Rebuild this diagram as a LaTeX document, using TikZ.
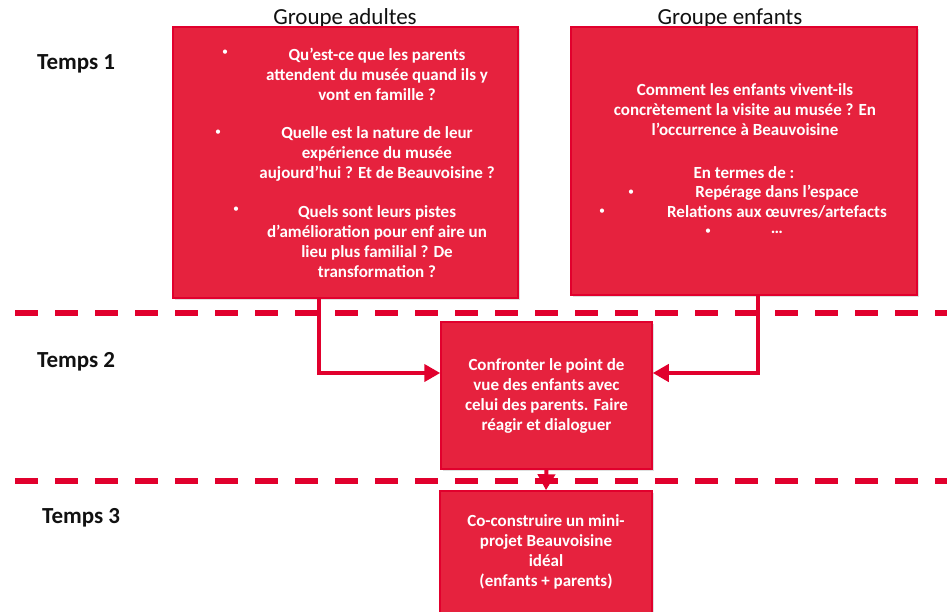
\documentclass[tikz,border=0pt]{standalone}
\usepackage{fontspec}
\setmainfont{Carlito}
\usetikzlibrary{arrows.meta,positioning,shadows}
\definecolor{BoxRed}{HTML}{E6223E}
\definecolor{EdgeRed}{HTML}{E1002D}
\definecolor{DarkText}{HTML}{111111}

\begin{document}
\begin{tikzpicture}[x=1pt,y=-1pt,
  box/.style={draw=EdgeRed,fill=BoxRed,line width=1.5pt,inner sep=0pt,
    drop shadow={shadow xshift=1.5pt,shadow yshift=-1.5pt,opacity=.25}},
  txt/.style={text=white,font=\bfseries\fontsize{17}{20}\selectfont,align=center},
  dot/.style={text=white,font=\fontsize{12}{12}\selectfont},
  phase/.style={anchor=base west,inner sep=0pt,text=DarkText,font=\bfseries\fontsize{23}{26}\selectfont},
  group/.style={anchor=base,inner sep=0pt,text=DarkText,font=\fontsize{23}{27}\selectfont},
  link/.style={draw=EdgeRed,line width=4pt,-{Triangle[length=16pt,width=17pt]}},
  sep/.style={draw=EdgeRed,line width=6pt,dash pattern=on 23pt off 17pt}
]
\useasboundingbox (0,0) rectangle (947,611);

% separators between the phases
\draw[sep] (15,313) -- (947,313);
\draw[sep] (15,481) -- (947,481);

% phases and groups
\node[phase] (t1) at (37,69) {Temps 1};
\node[phase] (t2) at (37,367) {Temps 2};
\node[phase] (t3) at (42,523) {Temps 3};
\node[group] (ga) at (345,24) {Groupe adultes};
\node[group] (ge) at (730,24) {Groupe enfants};

% boxes
\node[box,minimum width=345pt,minimum height=271pt] (adultes) at (345.5,162.5) {};
\node[box,minimum width=346pt,minimum height=268pt] (enfants) at (744,161) {};
\node[box,minimum width=211pt,minimum height=147pt] (confronter) at (546.5,395.5) {};
\node[box,minimum width=212pt,minimum height=122pt] (construire) at (546,552) {};

% adults questions
\node[dot] (a1) at (225,53) {•};
\node[txt] (q1) at (377,74) {Qu’est-ce que les parents\\attendent du musée quand ils y\\vont en famille ?};
\node[dot] (a2) at (218,133) {•};
\node[txt] (q2) at (377,154) {Quelle est la nature de leur\\expérience du musée\\aujourd’hui ? Et de Beauvoisine ?};
\node[dot] (a3) at (236,210) {•};
\node[txt] (q3) at (377,242) {Quels sont leurs pistes\\d’amélioration pour enf aire un\\lieu plus familial ? De\\transformation ?};

% children questions
\node[txt] (c1) at (745,110) {Comment les enfants vivent-ils\\concrètement la visite au musée ? En\\l’occurrence à Beauvoisine};
\node[txt] (c2) at (744,173) {En termes de :};
\node[dot] (e1) at (631,193) {•};
\node[txt] (c3) at (777,193) {Repérage dans l’espace};
\node[dot] (e2) at (602,212) {•};
\node[txt] (c4) at (777,212) {Relations aux œuvres/artefacts};
\node[dot] (e3) at (708,232) {•};
\node[txt] (c5) at (777,232) {…};

% joint phases
\node[txt] at (confronter) {Confronter le point de\\vue des enfants avec\\celui des parents. Faire\\réagir et dialoguer};
\node[txt] at (construire) {Co-construire un mini-\\projet Beauvoisine\\idéal\\(enfants + parents)};

\draw[link] ([xshift=-26.5pt]adultes.south) |- ([yshift=22.5pt]confronter.west);
\draw[link] ([xshift=14pt]enfants.south) |- ([yshift=22.5pt]confronter.east);
\draw[link] (confronter.south) -- (construire.north);
\end{tikzpicture}
\end{document}
